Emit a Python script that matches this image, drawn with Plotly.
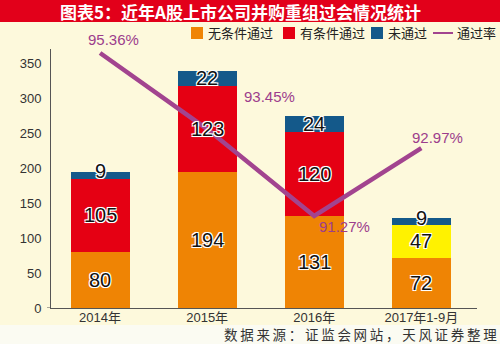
import plotly.graph_objects as go

# Data
years = ["2014年", "2015年", "2016年", "2017年1-9月"]
unconditional = [80, 194, 131, 72]      # 无条件通过
conditional = [105, 123, 120, 47]       # 有条件通过
rejected = [9, 22, 24, 9]               # 未通过
pass_rate = [95.36, 93.45, 91.27, 92.97]  # 通过率 (%)
y_ticks = [0, 50, 100, 150, 200, 250, 300, 350]
source_note = "数据来源：证监会网站，天风证券整理"

ORANGE = "#ef8404"
RED = "#e50013"
BLUE = "#14598a"
YELLOW = "#fff200"
PURPLE = "#a2448f"
BG = "#fdf9dc"
FONT = "Liberation Sans, Arial, Noto Sans CJK SC, sans-serif"
CJK = "Noto Sans CJK SC, sans-serif"

W, H = 500, 344
ML, MR, MT, MB = 51, 23, 49, 36
PW, PH = W - ML - MR, H - MT - MB


def px(x):
    """figure pixel column -> paper x"""
    return (x - ML) / PW


def py(y):
    """figure pixel row (from top) -> paper y"""
    return (H - MB - y) / PH


fig = go.Figure()

fig.add_trace(go.Bar(x=years, y=unconditional, marker_color=ORANGE,
                     marker_line_width=0, width=0.55, name="无条件通过"))
fig.add_trace(go.Bar(x=years, y=conditional,
                     marker_color=[RED, RED, RED, YELLOW],
                     marker_line_width=0, width=0.55, name="有条件通过"))
fig.add_trace(go.Bar(x=years, y=rejected, marker_color=BLUE,
                     marker_line_width=0, width=0.55, name="未通过"))
fig.add_trace(go.Scatter(x=years, y=pass_rate, yaxis="y2", mode="lines",
                         line=dict(color=PURPLE, width=4.5), cliponaxis=False,
                         name="通过率"))

annotations = []
outline = "-1px -1px 0 #fff, 1px -1px 0 #fff, -1px 1px 0 #fff, 1px 1px 0 #fff, 0 0 2px #fff"

# value labels centred on each stacked segment (thin segments nudged upward)
for i, yr in enumerate(years):
    base = 0
    for series in (unconditional, conditional, rejected):
        v = series[i]
        annotations.append(dict(
            x=yr, y=base + v / 2, xref="x", yref="y", text=str(v),
            showarrow=False, yshift=4 if v < 15 else 0,
            font=dict(family=FONT, size=20, color="#111", shadow=outline)))
        base += v

# pass-rate labels
rate_shift = [(13, 13), (62, 33), (30, -11), (16, 11)]
for yr, r, (dx, dy) in zip(years, pass_rate, rate_shift):
    annotations.append(dict(
        x=yr, y=r, xref="x", yref="y2", text=f"{r:.2f}%",
        showarrow=False, xshift=dx, yshift=dy,
        font=dict(family=FONT, size=15, color="#9c3d8c")))

shapes = [
    # title band
    dict(type="rect", xref="paper", yref="paper", x0=px(0), x1=px(W),
         y0=py(22), y1=py(0), fillcolor="#e2001a", line_width=0, layer="below"),
    # light strip behind the source note
    dict(type="rect", xref="paper", yref="paper", x0=px(0), x1=px(W),
         y0=py(H), y1=py(325), fillcolor="#fbfbf2", line_width=0, layer="below"),
]

# title
annotations.append(dict(
    x=px(240), y=py(11), xref="paper", yref="paper",
    text="<b>图表5：近年A股上市公司并购重组过会情况统计</b>",
    showarrow=False, xanchor="center", yanchor="middle",
    font=dict(family=CJK, size=17, color="#ffffff")))

# legend entries
legend_items = [("无条件通过", ORANGE, 191), ("有条件通过", RED, 283), ("未通过", BLUE, 371)]
LY = 33
for label, color, x0 in legend_items:
    shapes.append(dict(type="rect", xref="paper", yref="paper",
                       x0=px(x0), x1=px(x0 + 12), y0=py(LY + 6), y1=py(LY - 6),
                       fillcolor=color, line_width=0))
    annotations.append(dict(x=px(x0 + 15), y=py(LY), xref="paper", yref="paper",
                            text=label, showarrow=False, xanchor="left", yanchor="middle",
                            font=dict(family=CJK, size=13, color="#222")))
shapes.append(dict(type="line", xref="paper", yref="paper",
                   x0=px(433), x1=px(453), y0=py(LY), y1=py(LY),
                   line=dict(color=PURPLE, width=2)))
annotations.append(dict(x=px(455), y=py(LY), xref="paper", yref="paper",
                        text="通过率", showarrow=False, xanchor="left", yanchor="middle",
                        font=dict(family=CJK, size=13, color="#222")))

# source note, loosely letter-spaced
annotations.append(dict(x=px(499), y=py(334), xref="paper", yref="paper",
                        xanchor="right", yanchor="middle",
                        text="\u2009".join(source_note), showarrow=False,
                        font=dict(family=CJK, size=13.5, color="#333")))

# small tick left of the origin
shapes.append(dict(type="line", xref="paper", yref="y", x0=px(47), x1=px(ML), y0=0, y1=0,
                   line=dict(color="#555", width=1)))

fig.update_layout(
    width=W, height=H, barmode="stack", showlegend=False,
    paper_bgcolor=BG, plot_bgcolor=BG,
    margin=dict(l=ML, r=MR, t=MT, b=MB),
    xaxis=dict(range=[-0.458, 3.52], showgrid=False, showline=True,
               linecolor="#555", linewidth=1, ticks="", ticklabelstandoff=-3,
               tickfont=dict(family=FONT, size=13, color="#333")),
    yaxis=dict(range=[0, 370], tickvals=y_ticks, showgrid=False, showline=True,
               linecolor="#555", linewidth=1, ticks="", zeroline=False,
               ticklabelstandoff=6,
               tickfont=dict(family=FONT, size=13, color="#333")),
    yaxis2=dict(range=[88.96, 95.46], overlaying="y", visible=False),
    annotations=annotations, shapes=shapes,
)

fig.write_html("out.html")
